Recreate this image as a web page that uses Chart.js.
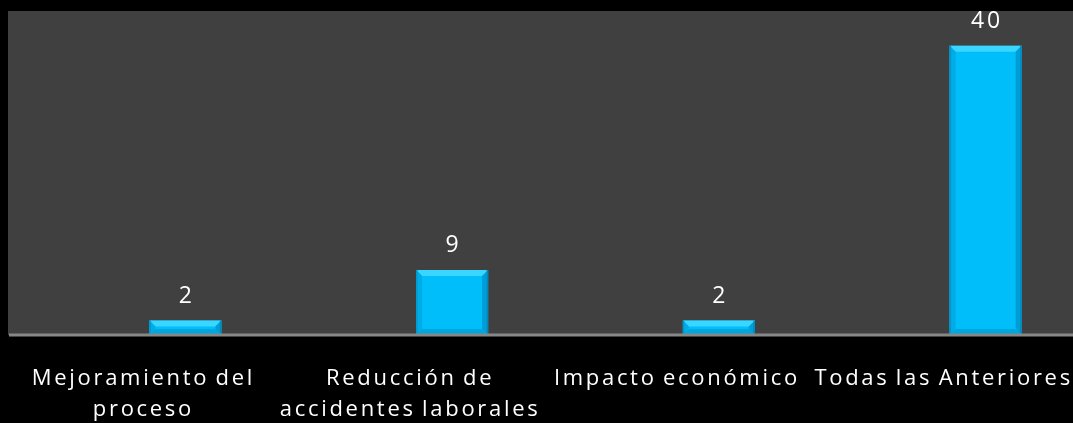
<!DOCTYPE html>
<html>
<head>
<meta charset="utf-8">
<script src="https://cdn.jsdelivr.net/npm/chart.js@4.4.0/dist/chart.umd.min.js"></script>
<style>
  html, body { margin: 0; padding: 0; background: #000; overflow: hidden; }
  #wrap { width: 1073px; height: 423px; overflow: hidden; position: relative; }
  canvas { display: block; }
</style>
</head>
<body>
<div id="wrap"><canvas id="chart" width="1124" height="423"></canvas></div>
<script>
// --- data ---
const categories = [
  ['Mejoramiento del', 'proceso'],
  ['Reducción de', 'accidentes laborales'],
  'Impacto económico',
  'Todas las Anteriores'
];
const responses = [2, 9, 2, 40];

// --- colours ---
const PLOT_BG = '#404040';
const AXIS_LINE = '#878787';
const BAR_FILL = '#00BEFA';
const TEXT = '#ffffff';
const FONT = '"Open Sans", "DejaVu Sans", sans-serif';

// wide tracking on all canvas text
function applySpacing(ctx) {
  ctx.letterSpacing = '2.7px';
  ctx.wordSpacing = '-2px';
}

const spacingPlugin = {
  id: 'spacing',
  beforeLayout(chart) { applySpacing(chart.ctx); },
  beforeDraw(chart) { applySpacing(chart.ctx); }
};

// grey plot panel behind the bars
const panelPlugin = {
  id: 'panel',
  beforeDraw(chart) {
    const { ctx, chartArea, width } = chart;
    ctx.save();
    ctx.fillStyle = PLOT_BG;
    ctx.fillRect(8, chartArea.top, width - 8, chartArea.bottom - chartArea.top);
    ctx.restore();
  }
};

// bevelled edges on each bar, axis line and value labels
const barDecor = {
  id: 'barDecor',
  afterDatasetsDraw(chart) {
    const { ctx, chartArea, width } = chart;
    const meta = chart.getDatasetMeta(0);
    ctx.save();
    meta.data.forEach((bar) => {
      const l = bar.x - bar.width / 2;
      const r = bar.x + bar.width / 2;
      const t = bar.y;
      const b = bar.base;
      const bv = Math.min(6, (b - t) / 2);
      const poly = (pts, fill) => {
        ctx.beginPath();
        ctx.moveTo(pts[0][0], pts[0][1]);
        pts.slice(1).forEach(p => ctx.lineTo(p[0], p[1]));
        ctx.closePath();
        ctx.fillStyle = fill;
        ctx.fill();
      };
      // top
      poly([[l, t], [r, t], [r - bv, t + bv], [l + bv, t + bv]], '#3AD6FF');
      // left
      poly([[l, t], [l + bv, t + bv], [l + bv, b - bv], [l, b]], '#00ACE6');
      // right
      poly([[r, t], [r - bv, t + bv], [r - bv, b - bv], [r, b]], '#009DD6');
      // bottom
      poly([[l, b], [l + bv, b - bv], [r - bv, b - bv], [r, b]], '#00A6DE');
      // thin outer rim
      ctx.fillStyle = '#0089BE';
      ctx.fillRect(r - 1.5, t, 1.5, b - t);
      ctx.fillStyle = '#0098CF';
      ctx.fillRect(l, t, 1.5, b - t);
    });

    // category axis line
    ctx.fillStyle = AXIS_LINE;
    ctx.fillRect(9, chartArea.bottom - 1.5, width - 9, 3);

    // value labels
    applySpacing(ctx);
    ctx.fillStyle = TEXT;
    ctx.font = '23px ' + FONT;
    ctx.textAlign = 'center';
    ctx.textBaseline = 'alphabetic';
    meta.data.forEach((bar, i) => {
      ctx.fillText(String(responses[i]), bar.x + 1.3, bar.y - 18);
    });
    ctx.restore();
  }
};

new Chart(document.getElementById('chart'), {
  type: 'bar',
  data: {
    labels: categories,
    datasets: [{
      data: responses,
      backgroundColor: BAR_FILL,
      borderWidth: 0,
      barPercentage: 0.27,
      categoryPercentage: 1
    }]
  },
  options: {
    responsive: false,
    animation: false,
    layout: { padding: { left: 52, right: 5, top: 11, bottom: 0 } },
    plugins: {
      legend: { display: false },
      tooltip: { enabled: false }
    },
    scales: {
      x: {
        grid: { display: false, drawTicks: false },
        border: { display: false },
        ticks: {
          color: TEXT,
          font: { family: FONT, size: 22, lineHeight: 1.41 },
          padding: 28,
          labelOffset: -42,
          autoSkip: false,
          maxRotation: 0,
          minRotation: 0
        },
        afterFit(scale) {
          scale.height = 88;
          scale.paddingLeft = 0;
          scale.paddingRight = 0;
        }
      },
      y: {
        display: false,
        min: 0,
        max: 44.8
      }
    }
  },
  plugins: [spacingPlugin, panelPlugin, barDecor]
});
</script>
</body>
</html>
